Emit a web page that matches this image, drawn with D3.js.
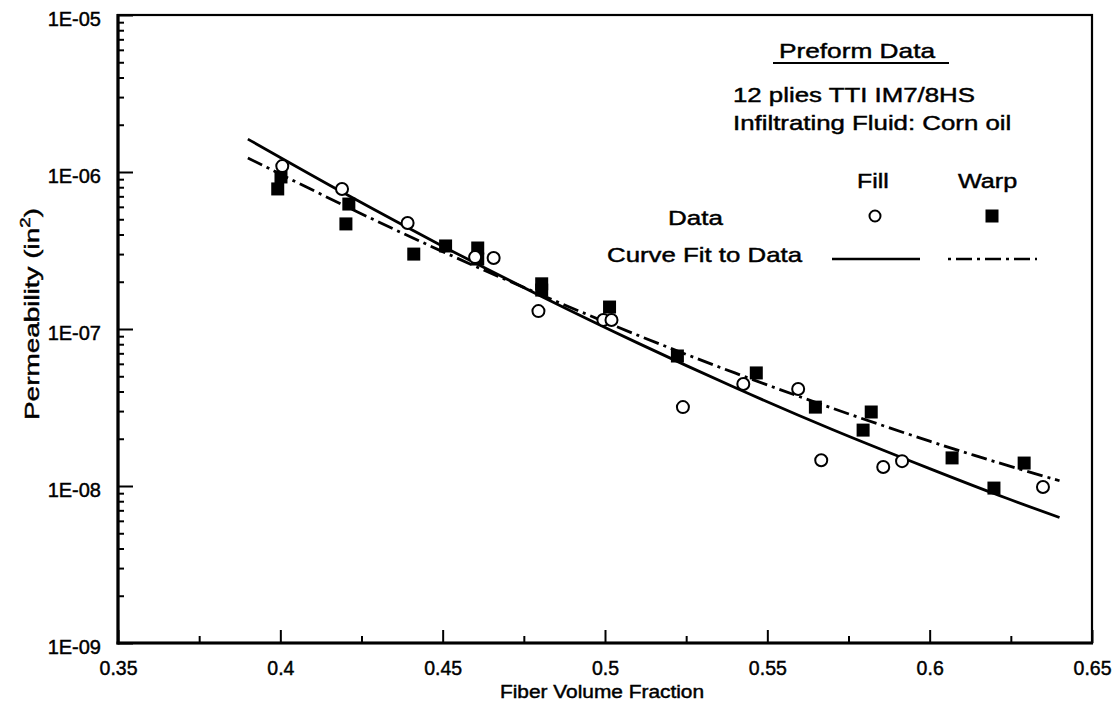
<!DOCTYPE html>
<html>
<head>
<meta charset="utf-8">
<script src="https://cdn.jsdelivr.net/npm/d3@7"></script>
<style>
  html, body { margin: 0; padding: 0; background: #fff; }
  svg { display: block; font-family: "Liberation Sans", Arial, Helvetica, sans-serif; }
  svg text { stroke: #000; stroke-width: 0.45px; }
</style>
</head>
<body>
<svg id="chart" width="1118" height="707"></svg>
<script>
// ---------------- data ----------------
const fillX = [0.4006, 0.419, 0.4392, 0.460, 0.4657, 0.4795, 0.4995, 0.502, 0.524, 0.5426, 0.5595, 0.5666, 0.5857, 0.5915, 0.6349];
const fillY = [1.09e-6, 7.8e-7, 4.73e-7, 2.87e-7, 2.83e-7, 1.30e-7, 1.14e-7, 1.14e-7, 3.18e-8, 4.46e-8, 4.15e-8, 1.46e-8, 1.32e-8, 1.44e-8, 9.86e-9];

const warpX = [0.3992, 0.4002, 0.4202, 0.4211, 0.4411, 0.4509, 0.4608, 0.4608, 0.4805, 0.4805, 0.5014, 0.5223, 0.5466, 0.5648, 0.5795, 0.582, 0.6069, 0.6198, 0.6291];
const warpY = [7.8e-7, 9.3e-7, 4.67e-7, 6.25e-7, 3.0e-7, 3.38e-7, 3.28e-7, 2.79e-7, 1.94e-7, 1.77e-7, 1.38e-7, 6.73e-8, 5.25e-8, 3.18e-8, 2.27e-8, 2.96e-8, 1.51e-8, 9.7e-9, 1.4e-8];

const fitX      = [0.39, 0.42, 0.45, 0.48, 0.51, 0.54, 0.57, 0.60, 0.62, 0.64];
const fillFitY  = [1.62e-6, 7.26e-7, 3.37e-7, 1.63e-7, 8.16e-8, 4.24e-8, 2.29e-8, 1.29e-8, 8.92e-9, 6.30e-9];
const warpFitY  = [1.23e-6, 6.07e-7, 3.11e-7, 1.66e-7, 9.14e-8, 5.25e-8, 3.13e-8, 1.93e-8, 1.43e-8, 1.08e-8];

const xMajorTicks = [0.35, 0.4, 0.45, 0.5, 0.55, 0.6, 0.65];
const xTickLabels = ["0.35", "0.4", "0.45", "0.5", "0.55", "0.6", "0.65"];
const xMinorTicks = [0.375, 0.425, 0.475, 0.525, 0.575, 0.625];
const yMajorTicks = [1e-5, 1e-6, 1e-7, 1e-8, 1e-9];
const yTickLabels = ["1E-05", "1E-06", "1E-07", "1E-08", "1E-09"];

const xTitle = "Fiber Volume Fraction";
const yTitle = "Permeability (in";
const legendTitle = "Preform Data";
const legendLine1 = "12 plies TTI IM7/8HS";
const legendLine2 = "Infiltrating Fluid: Corn oil";
const seriesNames = ["Fill", "Warp"];
const rowNames = ["Data", "Curve Fit to Data"];

// ---------------- layout ----------------
const svg = d3.select("#chart");
svg.append("rect").attr("width", 1118).attr("height", 707).attr("fill", "#fff");

const L = 118, R = 1092, T = 15, B = 643;
const x = d3.scaleLinear().domain([0.35, 0.65]).range([L, R]);
const y = d3.scaleLog().domain([1e-9, 1e-5]).range([B, T]);

// minor y ticks (2..9 per decade)
const yMinorTicks = [];
for (let e = -9; e < -5; e++) for (let m = 2; m <= 9; m++) yMinorTicks.push(m * Math.pow(10, e));

function styleAxis(g) {
  g.select(".domain").remove();
  g.selectAll(".tick line").attr("stroke", "#000").attr("stroke-width", 2);
  g.selectAll(".tick text").attr("fill", "#000");
}

// y minor
svg.append("g").attr("transform", `translate(${L},0)`)
  .call(d3.axisLeft(y).tickValues(yMinorTicks).tickSize(-6).tickFormat(""))
  .call(styleAxis);
// y major
svg.append("g").attr("transform", `translate(${L},0)`)
  .call(d3.axisLeft(y).tickValues(yMajorTicks).tickSize(-15).tickPadding(17)
        .tickFormat((d, i) => yTickLabels[i]))
  .call(styleAxis)
  .call(g => g.selectAll(".tick text").attr("font-size", 20).attr("dy", "0.5em")
        .attr("font-family", "Liberation Sans, Arial, sans-serif"));
// x minor
svg.append("g").attr("transform", `translate(0,${B})`)
  .call(d3.axisBottom(x).tickValues(xMinorTicks).tickSize(-7).tickFormat(""))
  .call(styleAxis);
// x major
svg.append("g").attr("transform", `translate(0,${B})`)
  .call(d3.axisBottom(x).tickValues(xMajorTicks).tickSize(-13).tickPadding(18.5)
        .tickFormat((d, i) => xTickLabels[i]))
  .call(styleAxis)
  .call(g => g.selectAll(".tick text").attr("font-size", 19.5)
        .attr("font-family", "Liberation Sans, Arial, sans-serif"));

// frame
svg.append("rect").attr("x", L).attr("y", T).attr("width", R - L).attr("height", B - T)
  .attr("fill", "none").attr("stroke", "#000").attr("stroke-width", 2.2);
svg.append("line").attr("x1", L).attr("x2", L).attr("y1", T - 1).attr("y2", B + 1.5)
  .attr("stroke", "#000").attr("stroke-width", 3.2);
svg.append("line").attr("x1", L - 1.5).attr("x2", R + 1).attr("y1", B).attr("y2", B)
  .attr("stroke", "#000").attr("stroke-width", 3.2);

// helper for stretched text
function txt(str, tx, ty, size, sx, anchor, rot) {
  return svg.append("text")
    .attr("transform", `translate(${tx},${ty}) rotate(${rot || 0}) scale(${sx},1)`)
    .attr("font-size", size).attr("text-anchor", anchor || "start")
    .attr("fill", "#000").text(str);
}

// axis titles
txt(xTitle, 602, 698, 18, 1.16, "middle");
const yt = txt(yTitle, 39, 314, 21, 1.33, "middle", -90);
yt.append("tspan").attr("font-size", 14).attr("dy", -9).text("2");
yt.append("tspan").attr("dy", 9).text(")");

// fit curves
const lineGen = d3.line().x(d => x(d[0])).y(d => y(d[1])).curve(d3.curveCatmullRom);
const dashDot = "16,5,3,5";
svg.append("path").datum(fitX.map((v, i) => [v, fillFitY[i]]))
  .attr("d", lineGen).attr("fill", "none").attr("stroke", "#000").attr("stroke-width", 2.8);
svg.append("path").datum(fitX.map((v, i) => [v, warpFitY[i]]))
  .attr("d", lineGen).attr("fill", "none").attr("stroke", "#000").attr("stroke-width", 2.8)
  .attr("stroke-dasharray", dashDot);

// data points
const sq = 13;
svg.append("g").selectAll("rect").data(warpX.map((v, i) => [v, warpY[i]])).join("rect")
  .attr("x", d => x(d[0]) - sq / 2).attr("y", d => y(d[1]) - sq / 2)
  .attr("width", sq).attr("height", sq).attr("fill", "#000");
svg.append("g").selectAll("circle").data(fillX.map((v, i) => [v, fillY[i]])).join("circle")
  .attr("cx", d => x(d[0])).attr("cy", d => y(d[1])).attr("r", 6)
  .attr("fill", "#fff").attr("stroke", "#000").attr("stroke-width", 2);

// legend
txt(legendTitle, 857, 58, 21, 1.25, "middle");
svg.append("line").attr("x1", 773).attr("x2", 949).attr("y1", 63).attr("y2", 63)
  .attr("stroke", "#000").attr("stroke-width", 1.8);
txt(legendLine1, 733, 102, 21, 1.23);
txt(legendLine2, 733, 130, 21, 1.23);
txt(seriesNames[0], 857, 188, 21, 1.18);
txt(seriesNames[1], 958, 188, 21, 1.2);
txt(rowNames[0], 668, 225, 21, 1.24);
txt(rowNames[1], 607, 262, 21, 1.23);
svg.append("circle").attr("cx", 875).attr("cy", 216).attr("r", 5.5)
  .attr("fill", "#fff").attr("stroke", "#000").attr("stroke-width", 2);
svg.append("rect").attr("x", 992 - 6.5).attr("y", 216 - 6.5).attr("width", 13).attr("height", 13).attr("fill", "#000");
svg.append("line").attr("x1", 832).attr("x2", 920).attr("y1", 259).attr("y2", 259)
  .attr("stroke", "#000").attr("stroke-width", 2.5);
svg.append("line").attr("x1", 948).attr("x2", 1037).attr("y1", 259).attr("y2", 259)
  .attr("stroke", "#000").attr("stroke-width", 2.5).attr("stroke-dasharray", "3,5,16,5");
</script>
</body>
</html>
